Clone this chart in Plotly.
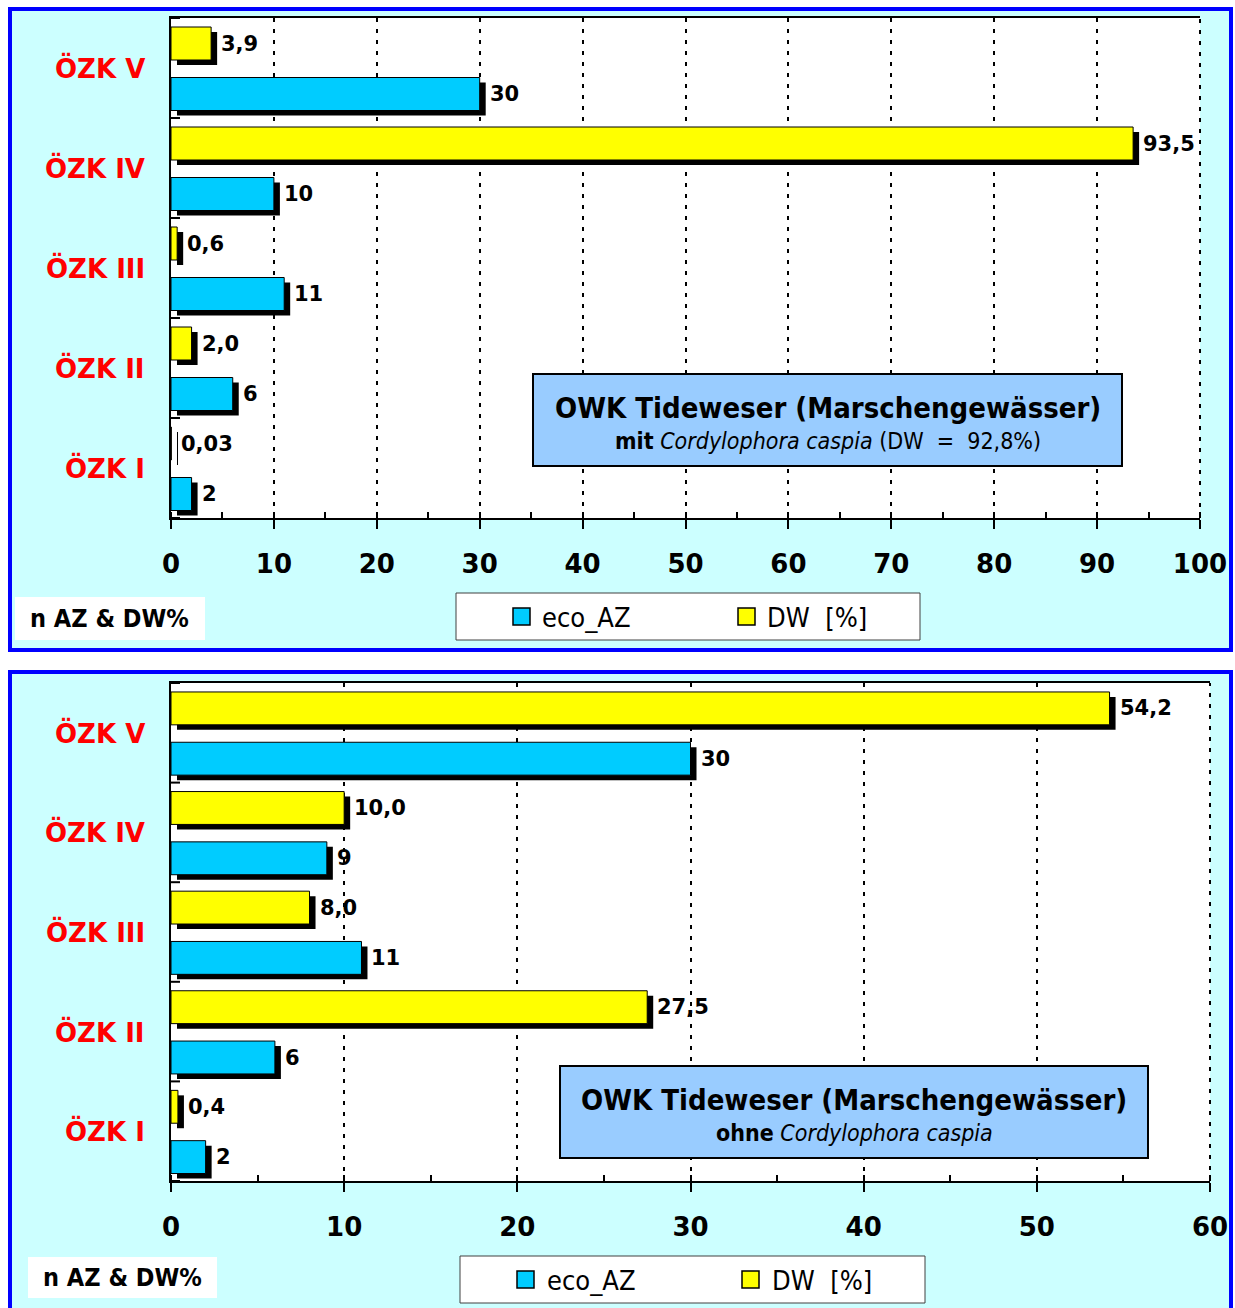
import plotly.graph_objects as go

W, H = 1235, 1308

# ---------------- data ----------------
categories = ["ÖZK I", "ÖZK II", "ÖZK III", "ÖZK IV", "ÖZK V"]
series_names = ["eco_AZ", "DW [%]"]

top_eco_az = [2, 6, 11, 10, 30]
top_dw = [0.03, 2.0, 0.6, 93.5, 3.9]
top_eco_labels = ["2", "6", "11", "10", "30"]
top_dw_labels = ["0,03", "2,0", "0,6", "93,5", "3,9"]
top_x_range = [0, 100]

bottom_eco_az = [2, 6, 11, 9, 30]
bottom_dw = [0.4, 27.5, 8.0, 10.0, 54.2]
bottom_eco_labels = ["2", "6", "11", "9", "30"]
bottom_dw_labels = ["0,4", "27,5", "8,0", "10,0", "54,2"]
bottom_x_range = [0, 60]

x_tick_step = 10
x_minor_step = 5
axis_caption = "n AZ & DW%"
top_title = "OWK Tideweser (Marschengewässer)"
top_subtitle = "<b>mit</b> <i>Cordylophora caspia</i> (DW\u00a0 =\u00a0 92,8%)"
bottom_title = "OWK Tideweser (Marschengewässer)"
bottom_subtitle = "<b>ohne</b> <i>Cordylophora caspia</i>"

# ---------------- styles ----------------
ECO_COLOR = "#00CCFF"
DW_COLOR = "#FFFF00"
PANEL_BG = "#CCFFFF"
PANEL_LINE = "#0000FF"
TITLE_BG = "#99CCFF"
LABEL_RED = "#FF0000"
FONT = "DejaVu Sans"
FONT_C = "DejaVu Sans Condensed, DejaVu Sans"
GRID_DASH = "4px,7px"

BAR_W = 0.33
DW_OFF = 0.245
ECO_OFF = -0.26
SHADOW_DX = 6
SHADOW_DY = 5


def px(x):
    return x / W


def py(y):
    return 1 - y / H


panels = [
    dict(eco=top_eco_az, dw=top_dw, eco_lab=top_eco_labels, dw_lab=top_dw_labels,
         xr=top_x_range, title=top_title, subtitle=top_subtitle,
         frame=(10, 9, 1231, 650), plot=(171, 18, 1200, 518),
         title_box=(533, 374, 1122, 466), title_y=(408, 441),
         legend_box=(456, 593, 920, 640), legend_items=(513, 540, 738, 765),
         nbox=(15, 597, 205, 640)),
    dict(eco=bottom_eco_az, dw=bottom_dw, eco_lab=bottom_eco_labels, dw_lab=bottom_dw_labels,
         xr=bottom_x_range, title=bottom_title, subtitle=bottom_subtitle,
         frame=(10, 672, 1231, 1322), plot=(171, 683, 1210, 1181),
         title_box=(560, 1066, 1148, 1158), title_y=(1100, 1133),
         legend_box=(460, 1256, 925, 1303), legend_items=(517, 545, 742, 770),
         nbox=(28, 1257, 217, 1298)),
]

fig = go.Figure()
shapes = []
annotations = []
layout_axes = {}

n = len(categories)
pos = list(range(n))

for k, p in enumerate(panels, start=1):
    xa = "x" if k == 1 else f"x{k}"
    ya = "y" if k == 1 else f"y{k}"
    xkey = "xaxis" if k == 1 else f"xaxis{k}"
    ykey = "yaxis" if k == 1 else f"yaxis{k}"
    x0p, y0p, x1p, y1p = p["plot"]
    ppu_x = (x1p - x0p) / (p["xr"][1] - p["xr"][0])
    ppu_y = (y1p - y0p) / n
    sx = SHADOW_DX / ppu_x
    sy = SHADOW_DY / ppu_y

    # panel frame + white plot area
    fx0, fy0, fx1, fy1 = p["frame"]
    shapes.append(dict(type="rect", xref="paper", yref="paper",
                       x0=px(fx0), x1=px(fx1), y0=py(fy1), y1=py(fy0),
                       fillcolor=PANEL_BG, line=dict(color=PANEL_LINE, width=4), layer="below"))
    shapes.append(dict(type="rect", xref=f"{xa} domain", yref=f"{ya} domain",
                       x0=0, x1=1, y0=0, y1=1, fillcolor="white",
                       line=dict(width=0), layer="below"))
    # dotted right border of the plot area
    shapes.append(dict(type="line", xref=f"{xa} domain", yref=f"{ya} domain",
                       x0=1, x1=1, y0=0, y1=1,
                       line=dict(color="black", width=2, dash=GRID_DASH), layer="below"))

    series = [(p["eco"], p["eco_lab"], ECO_OFF, ECO_COLOR, series_names[0]),
              (p["dw"], p["dw_lab"], DW_OFF, DW_COLOR, series_names[1])]

    # shadows
    for vals, labs, off, color, name in series:
        ys = [i + off - sy for i in pos]
        fig.add_trace(go.Bar(x=vals, y=ys, base=sx, width=BAR_W, orientation="h",
                             marker=dict(color="black", line=dict(width=0)),
                             xaxis=xa, yaxis=ya, showlegend=False, hoverinfo="skip"))
    # bars
    for vals, labs, off, color, name in series:
        ys = [i + off for i in pos]
        fig.add_trace(go.Bar(x=vals, y=ys, width=BAR_W, orientation="h", name=name,
                             marker=dict(color=color, line=dict(color="black", width=1)),
                             xaxis=xa, yaxis=ya, showlegend=False))
        for v, y, lab in zip(vals, ys, labs):
            annotations.append(dict(x=v, y=y, xref=xa, yref=ya, text=lab, showarrow=False,
                                    xanchor="left", yanchor="middle", xshift=8,
                                    font=dict(family=FONT, size=21, color="black", weight="bold")))

    # category labels
    for i, cat in zip(pos, categories):
        annotations.append(dict(x=0, y=i, xref=xa, yref=ya, text=cat, showarrow=False,
                                xanchor="right", yanchor="middle", xshift=-24,
                                font=dict(family=FONT, size=26, color=LABEL_RED, weight="bold")))

    # category boundary cross ticks
    for b in [i - 0.5 for i in range(n + 1)]:
        shapes.append(dict(type="line", xref=xa, yref=ya, xsizemode="pixel", xanchor=0,
                           x0=-10, x1=9, y0=b, y1=b, line=dict(color="black", width=2)))

    layout_axes[xkey] = dict(
        domain=[px(x0p), px(x1p)], range=p["xr"], anchor=ya, automargin=False,
        tickmode="linear", tick0=0, dtick=x_tick_step,
        ticks="outside", ticklen=9, tickwidth=2, tickcolor="black",
        showline=True, linecolor="black", linewidth=2, mirror=True,
        showgrid=True, gridcolor="black", gridwidth=2, griddash=GRID_DASH,
        zeroline=False, fixedrange=True, ticklabelstandoff=13,
        tickfont=dict(family=FONT, size=26, color="black", weight="bold"),
        minor=dict(tick0=0, dtick=x_minor_step, ticks="inside", ticklen=6,
                   tickwidth=1.5, tickcolor="black", showgrid=False),
    )
    layout_axes[ykey] = dict(
        domain=[py(y1p), py(y0p)], range=[-0.5, n - 0.5], anchor=xa, automargin=False,
        showline=True, linecolor="black", linewidth=2, ticks="",
        showticklabels=False, showgrid=False, zeroline=False, fixedrange=True,
    )

    # title box
    tx0, ty0, tx1, ty1 = p["title_box"]
    shapes.append(dict(type="rect", xref="paper", yref="paper",
                       x0=px(tx0), x1=px(tx1), y0=py(ty1), y1=py(ty0),
                       fillcolor=TITLE_BG, line=dict(color="black", width=2), layer="above"))
    tcx = (tx0 + tx1) / 2
    annotations.append(dict(x=px(tcx), y=py(p["title_y"][0]), xref="paper", yref="paper",
                            text=p["title"], showarrow=False, xanchor="center", yanchor="middle",
                            font=dict(family=FONT_C, size=29, color="black", weight="bold")))
    annotations.append(dict(x=px(tcx), y=py(p["title_y"][1]), xref="paper", yref="paper",
                            text=p["subtitle"], showarrow=False, xanchor="center", yanchor="middle",
                            font=dict(family=FONT_C, size=23, color="black")))

    # legend box (drawn)
    lx0, ly0, lx1, ly1 = p["legend_box"]
    shapes.append(dict(type="rect", xref="paper", yref="paper",
                       x0=px(lx0), x1=px(lx1), y0=py(ly1), y1=py(ly0),
                       fillcolor="white", line=dict(color="#404040", width=1), layer="above"))
    lcy = (ly0 + ly1) / 2
    sq1, t1, sq2, t2 = p["legend_items"]
    for sqx, tx, color, name in [(sq1, t1, ECO_COLOR, series_names[0]),
                                 (sq2, t2, DW_COLOR, series_names[1])]:
        shapes.append(dict(type="rect", xref="paper", yref="paper",
                           x0=px(sqx), x1=px(sqx + 17), y0=py(lcy + 8.5), y1=py(lcy - 8.5),
                           fillcolor=color, line=dict(color="black", width=1.5), layer="above"))
        annotations.append(dict(x=px(tx), y=py(lcy + 1), xref="paper", yref="paper",
                                text=name.replace(" ", "\u00a0 "), showarrow=False,
                                xanchor="left", yanchor="middle",
                                font=dict(family=FONT_C, size=27, color="black")))

    # axis caption box
    nx0, ny0, nx1, ny1 = p["nbox"]
    shapes.append(dict(type="rect", xref="paper", yref="paper",
                       x0=px(nx0), x1=px(nx1), y0=py(ny1), y1=py(ny0),
                       fillcolor="white", line=dict(width=0), layer="above"))
    annotations.append(dict(x=px((nx0 + nx1) / 2), y=py((ny0 + ny1) / 2), xref="paper", yref="paper",
                            text=axis_caption, showarrow=False, xanchor="center", yanchor="middle",
                            font=dict(family=FONT_C, size=25, color="black", weight="bold")))

fig.update_layout(
    width=W, height=H, autosize=False,
    margin=dict(l=0, r=0, t=0, b=0, pad=0, autoexpand=False),
    paper_bgcolor="white", plot_bgcolor="white",
    barmode="overlay", showlegend=False,
    shapes=shapes, annotations=annotations,
    **layout_axes,
)

fig.write_html("out.html")
